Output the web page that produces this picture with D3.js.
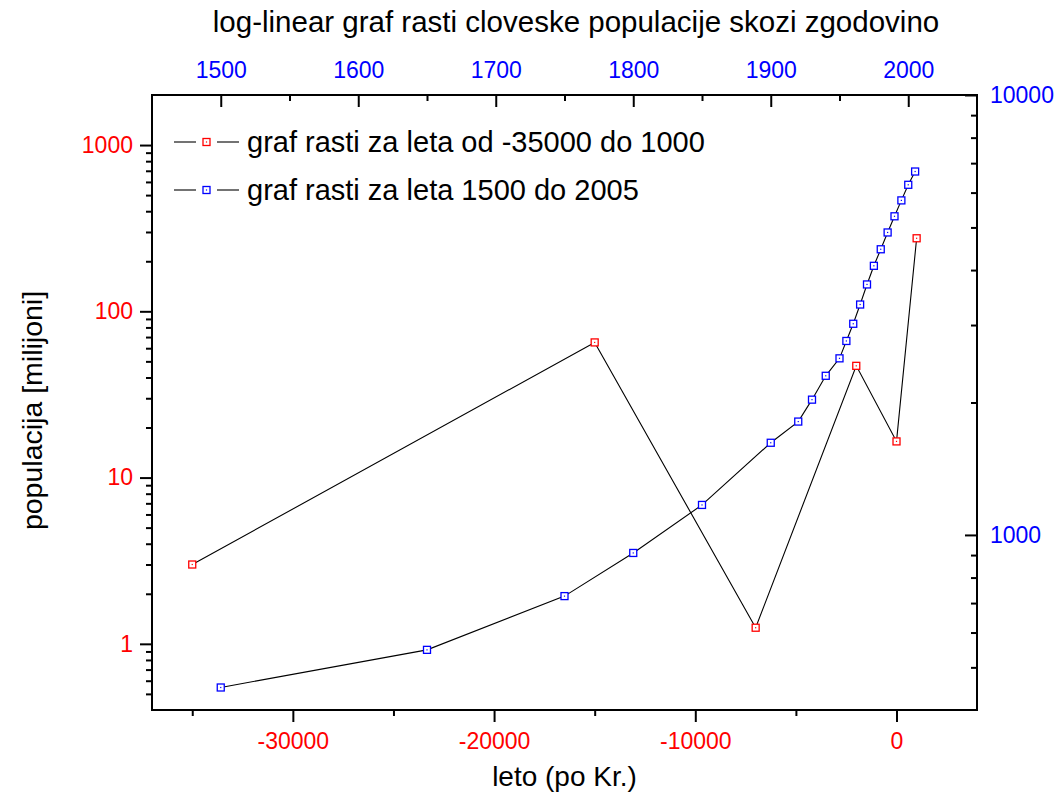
<!DOCTYPE html>
<html>
<head>
<meta charset="utf-8">
<script src="https://cdn.jsdelivr.net/npm/d3@7"></script>
<style>
  html, body { margin: 0; padding: 0; background: #fff; }
  svg { display: block; font-family: "Liberation Sans", Arial, sans-serif; }
</style>
</head>
<body>
<svg id="chart" width="1063" height="805"></svg>
<script>
// ---- data ----
const oldYears = [-35000, -15000, -7000, -2000, 0, 1000];
const oldPop = [3.0, 65, 1.25, 47, 16.5, 275];

const modernYears = [1500, 1650, 1750, 1800, 1850, 1900, 1920, 1930, 1940, 1950, 1955, 1960, 1965, 1970, 1975, 1980, 1985, 1990, 1995, 2000, 2005];
const modernPop = [450, 548, 726, 910, 1170, 1620, 1810, 2030, 2300, 2520, 2760, 3020, 3340, 3710, 4090, 4460, 4870, 5300, 5760, 6250, 6700];

const bottomTicks = [-30000, -20000, -10000, 0];
const bottomMinor = [-35000, -25000, -15000, -5000];
const topTicks = [1500, 1600, 1700, 1800, 1900, 2000];
const topMinor = [1550, 1650, 1750, 1850, 1950, 2050];
const leftTicks = [1, 10, 100, 1000];
const rightTicks = [1000, 10000];

const title = "log-linear graf rasti cloveske populacije skozi zgodovino";
const xTitle = "leto (po Kr.)";
const yTitle = "populacija [milijoni]";
const legendLabels = ["graf rasti za leta od -35000 do 1000", "graf rasti za leta 1500 do 2005"];

// ---- layout ----
const L = 152, R = 977, T = 95, B = 710;
const RED = "#ff0000", BLUE = "#0000ff";
const TICKFONT = 23;

const svg = d3.select("#chart");

const xB = d3.scaleLinear().domain([-37000, 4000]).range([L, R]);
const xT = d3.scaleLinear().domain([1450, 2050]).range([L, R]);
const yL = d3.scaleLog().domain([0.4, 2000]).range([B, T]);
const yR = d3.scaleLog().domain([400, 10000]).range([B, T]);

const fmt = d => String(d);  // plain hyphen minus

function minorLog(domain) {
  const out = [];
  const lo = Math.floor(Math.log10(domain[0])), hi = Math.ceil(Math.log10(domain[1]));
  for (let e = lo; e <= hi; e++) {
    for (let m = 2; m <= 9; m++) {
      const v = m * Math.pow(10, e);
      if (v > domain[0] * 1.0001 && v < domain[1] * 0.9999) out.push(v);
    }
  }
  return out;
}

function styleAxis(g, color) {
  g.select(".domain").remove();
  g.selectAll(".tick line").attr("stroke", "#000").attr("stroke-width", 2);
  g.selectAll(".tick text").attr("fill", color).style("font-size", TICKFONT + "px")
    .style("font-family", "'Liberation Sans', Arial, sans-serif");
}

// bottom axis
const gB = svg.append("g").attr("transform", `translate(0,${B})`)
  .call(d3.axisBottom(xB).tickValues(bottomTicks).tickSizeInner(12).tickSizeOuter(0).tickPadding(11).tickFormat(fmt));
styleAxis(gB, RED);
const gBm = svg.append("g").attr("transform", `translate(0,${B})`)
  .call(d3.axisBottom(xB).tickValues(bottomMinor).tickSizeInner(6).tickSizeOuter(0).tickFormat(""));
styleAxis(gBm, RED);

// top axis (ticks inward)
const gT = svg.append("g").attr("transform", `translate(0,${T})`)
  .call(d3.axisTop(xT).tickValues(topTicks).tickSizeInner(-12).tickSizeOuter(0).tickPadding(17).tickFormat(fmt));
styleAxis(gT, BLUE);
const gTm = svg.append("g").attr("transform", `translate(0,${T})`)
  .call(d3.axisTop(xT).tickValues(topMinor.filter(v => xT(v) < R - 1)).tickSizeInner(-6).tickSizeOuter(0).tickFormat(""));
styleAxis(gTm, BLUE);

// left axis
const gL = svg.append("g").attr("transform", `translate(${L},0)`)
  .call(d3.axisLeft(yL).tickValues(leftTicks).tickSizeInner(12).tickSizeOuter(0).tickPadding(7).tickFormat(fmt));
styleAxis(gL, RED);
const gLm = svg.append("g").attr("transform", `translate(${L},0)`)
  .call(d3.axisLeft(yL).tickValues(minorLog(yL.domain())).tickSizeInner(6).tickSizeOuter(0).tickFormat(""));
styleAxis(gLm, RED);

// right axis (ticks inward)
const gR = svg.append("g").attr("transform", `translate(${R},0)`)
  .call(d3.axisRight(yR).tickValues(rightTicks).tickSizeInner(-12).tickSizeOuter(0).tickPadding(13).tickFormat(fmt));
styleAxis(gR, BLUE);
const gRm = svg.append("g").attr("transform", `translate(${R},0)`)
  .call(d3.axisRight(yR).tickValues(minorLog(yR.domain())).tickSizeInner(-6).tickSizeOuter(0).tickFormat(""));
styleAxis(gRm, BLUE);

// frame
svg.append("rect").attr("x", L).attr("y", T).attr("width", R - L).attr("height", B - T)
  .attr("fill", "none").attr("stroke", "#000").attr("stroke-width", 2);

// series
function drawSeries(xs, ys, xScale, yScale, color) {
  const pts = xs.map((x, i) => [xScale(x), yScale(ys[i])]);
  svg.append("path").attr("d", d3.line()(pts)).attr("fill", "none")
    .attr("stroke", "#000").attr("stroke-width", 1.1);
  const m = svg.append("g").selectAll("g").data(pts).join("g")
    .attr("transform", d => `translate(${d[0]},${d[1]})`);
  m.append("rect").attr("x", -3.5).attr("y", -3.5).attr("width", 7).attr("height", 7)
    .attr("fill", "#fff").attr("stroke", color).attr("stroke-width", 1.3);
  m.append("rect").attr("x", -0.6).attr("y", -0.6).attr("width", 1.2).attr("height", 1.2).attr("fill", color);
}
drawSeries(oldYears, oldPop, xB, yL, RED);
drawSeries(modernYears, modernPop, xT, yR, BLUE);

// legend
const legColors = [RED, BLUE];
const legY = [142, 190];
legendLabels.forEach((lab, i) => {
  const g = svg.append("g").attr("transform", `translate(0,${legY[i]})`);
  g.append("line").attr("x1", 174).attr("x2", 196).attr("y1", 0).attr("y2", 0).attr("stroke", "#000").attr("stroke-width", 1.1);
  g.append("line").attr("x1", 217).attr("x2", 239).attr("y1", 0).attr("y2", 0).attr("stroke", "#000").attr("stroke-width", 1.1);
  g.append("rect").attr("x", 203).attr("y", -3.5).attr("width", 7).attr("height", 7)
    .attr("fill", "#fff").attr("stroke", legColors[i]).attr("stroke-width", 1.3);
  g.append("rect").attr("x", 205.9).attr("y", -0.6).attr("width", 1.2).attr("height", 1.2).attr("fill", legColors[i]);
  g.append("text").attr("x", 247).attr("y", 0).attr("dy", "0.35em")
    .style("font-size", "29px").attr("fill", "#000").text(lab);
});

// titles
svg.append("text").attr("x", 576).attr("y", 22).attr("dy", "0.35em").attr("text-anchor", "middle")
  .style("font-size", "29.5px").attr("fill", "#000").text(title);
svg.append("text").attr("x", (L + R) / 2).attr("y", 776).attr("dy", "0.35em").attr("text-anchor", "middle")
  .style("font-size", "28px").attr("fill", "#000").text(xTitle);
svg.append("text").attr("transform", `translate(32,${(T + B) / 2 + 8}) rotate(-90)`).attr("dy", "0.35em")
  .attr("text-anchor", "middle").style("font-size", "28.5px").attr("fill", "#000").text(yTitle);
</script>
</body>
</html>
